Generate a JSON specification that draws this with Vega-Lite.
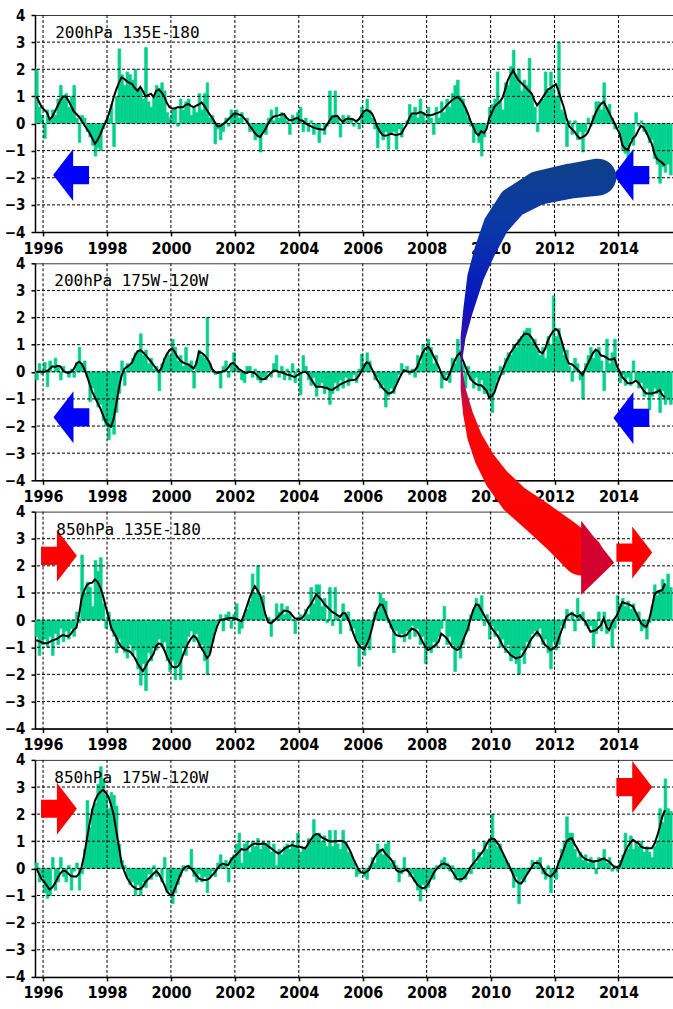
{
  "$schema": "https://vega.github.io/schema/vega-lite/v6.json",
  "padding": {"left": 3, "top": 7, "right": 0, "bottom": 0},
  "background": "white",
  "spacing": 31.3,
  "bounds": "flush",
  "config": {
    "view": {"stroke": "#3a3a3a", "strokeWidth": 1},
    "axis": {"labelFont": "Liberation Sans Narrow, DejaVu Sans Condensed, Liberation Sans", "labelFontWeight": "bold", "labelFontSize": 16, "labelColor": "#000", "domainColor": "#000", "domainWidth": 1.5, "tickColor": "#000", "tickWidth": 1.5, "tickSize": 4, "labelPadding": 2, "grid": false, "labelOverlap": false},
    "axisX": {"labelPadding": 4, "labelFontSize": 16},
    "axisY": {"tickCount": 9, "labelOverlap": false, "labelFontSize": 15, "labelPadding": 6}
  },
  "datasets": {
    "gy": [{"g": -3}, {"g": -2}, {"g": -1}, {"g": 0}, {"g": 1}, {"g": 2}, {"g": 3}],
    "gx": [{"g": "1996-01-01"}, {"g": "1998-01-01"}, {"g": "2000-01-01"}, {"g": "2002-01-01"}, {"g": "2004-01-01"}, {"g": "2006-01-01"}, {"g": "2008-01-01"}, {"g": "2010-01-01"}, {"g": "2012-01-01"}, {"g": "2014-01-01"}],
    "arr": [
      {"p": 1, "t": "1996-11-16", "y": -1.9, "d": "L"},
      {"p": 1, "t": "2014-05-28", "y": -1.9, "d": "L"},
      {"p": 2, "t": "1996-11-20", "y": -1.68, "d": "L"},
      {"p": 2, "t": "2014-05-28", "y": -1.7, "d": "L"},
      {"p": 3, "t": "1996-07-01", "y": 2.37, "d": "R"},
      {"p": 3, "t": "2014-07-01", "y": 2.49, "d": "R"},
      {"p": 4, "t": "1996-07-01", "y": 2.2, "d": "R"},
      {"p": 4, "t": "2014-07-01", "y": 3.0, "d": "R"}
    ],
    "arc": [
      {"k": 1, "t": "2013-05-10", "y": 16.33, "w": 0.88},
      {"k": 2, "t": "2012-07-09", "y": 16.19, "w": 0.833},
      {"k": 3, "t": "2011-06-28", "y": 15.93, "w": 0.8},
      {"k": 4, "t": "2010-09-15", "y": 15.4, "w": 0.72},
      {"k": 5, "t": "2010-03-10", "y": 14.6, "w": 0.62},
      {"k": 6, "t": "2009-10-30", "y": 13.63, "w": 0.51},
      {"k": 7, "t": "2009-07-15", "y": 12.67, "w": 0.4},
      {"k": 8, "t": "2009-04-19", "y": 11.41, "w": 0.238},
      {"k": 9, "t": "2009-02-20", "y": 10.41, "w": 0.119},
      {"k": 10, "t": "2009-01-30", "y": 9.44, "w": 0.024},
      {"k": 11, "t": "2009-02-21", "y": 8.52, "w": 0.119},
      {"k": 12, "t": "2009-04-19", "y": 7.59, "w": 0.238},
      {"k": 13, "t": "2009-07-04", "y": 6.74, "w": 0.357},
      {"k": 14, "t": "2009-10-26", "y": 5.93, "w": 0.476},
      {"k": 15, "t": "2010-03-19", "y": 5.19, "w": 0.595},
      {"k": 16, "t": "2010-10-06", "y": 4.44, "w": 0.714},
      {"k": 17, "t": "2011-06-28", "y": 3.78, "w": 0.81},
      {"k": 18, "t": "2012-03-25", "y": 3.07, "w": 0.905},
      {"k": 19, "t": "2012-11-12", "y": 2.41, "w": 1.0}
    ],
    "head": [{"t": "2013-05-08", "y": 2.3}],
    "d1": [
      {"m":"1995-10","v":2.0,"s":1.0},{"m":"1995-11","v":0.6,"s":0.8},{"m":"1995-12","v":0.3,"s":0.6},
      {"m":"1996-01","v":-0.55,"s":0.5},{"m":"1996-02","v":0.5,"s":0.4},{"m":"1996-03","v":0.2,"s":0.15},{"m":"1996-04","v":0.5,"s":0.25},{"m":"1996-05","v":0.3,"s":0.45},{"m":"1996-06","v":0.9,"s":0.65},{"m":"1996-07","v":1.4,"s":0.85},{"m":"1996-08","v":1.0,"s":1.0},{"m":"1996-09","v":1.1,"s":1.0},{"m":"1996-10","v":0.6,"s":0.85},{"m":"1996-11","v":1.0,"s":0.65},{"m":"1996-12","v":1.4,"s":0.45},
      {"m":"1997-01","v":0.2,"s":0.35},{"m":"1997-02","v":-0.7,"s":0.25},{"m":"1997-03","v":0.3,"s":0.1},{"m":"1997-04","v":0.2,"s":-0.05},{"m":"1997-05","v":-0.3,"s":-0.2},{"m":"1997-06","v":-0.5,"s":-0.35},{"m":"1997-07","v":-0.8,"s":-0.55},{"m":"1997-08","v":-1.2,"s":-0.75},{"m":"1997-09","v":-0.9,"s":-0.6},{"m":"1997-10","v":-1.0,"s":-0.4},{"m":"1997-11","v":-0.2,"s":-0.15},{"m":"1997-12","v":0.1,"s":0.05},
      {"m":"1998-01","v":0.2,"s":0.3},{"m":"1998-02","v":0.7,"s":0.6},{"m":"1998-03","v":-0.85,"s":0.95},{"m":"1998-04","v":1.0,"s":1.25},{"m":"1998-05","v":2.75,"s":1.5},{"m":"1998-06","v":1.8,"s":1.7},{"m":"1998-07","v":1.4,"s":1.65},{"m":"1998-08","v":1.9,"s":1.55},{"m":"1998-09","v":1.8,"s":1.5},{"m":"1998-10","v":1.6,"s":1.45},{"m":"1998-11","v":2.0,"s":1.3},{"m":"1998-12","v":1.3,"s":1.2},
      {"m":"1999-01","v":1.3,"s":1.35},{"m":"1999-02","v":0.9,"s":1.2},{"m":"1999-03","v":2.8,"s":1.0},{"m":"1999-04","v":0.8,"s":1.05},{"m":"1999-05","v":0.6,"s":1.1},{"m":"1999-06","v":1.0,"s":0.98},{"m":"1999-07","v":1.4,"s":1.2},{"m":"1999-08","v":1.3,"s":1.25},{"m":"1999-09","v":1.5,"s":1.15},{"m":"1999-10","v":1.2,"s":1.0},{"m":"1999-11","v":0.4,"s":0.75},{"m":"1999-12","v":0.2,"s":0.6},
      {"m":"2000-01","v":0.5,"s":0.55},{"m":"2000-02","v":0.6,"s":0.55},{"m":"2000-03","v":-0.1,"s":0.6},{"m":"2000-04","v":0.9,"s":0.6},{"m":"2000-05","v":0.5,"s":0.6},{"m":"2000-06","v":0.8,"s":0.68},{"m":"2000-07","v":0.9,"s":0.72},{"m":"2000-08","v":0.3,"s":0.65},{"m":"2000-09","v":0.6,"s":0.6},{"m":"2000-10","v":0.4,"s":0.66},{"m":"2000-11","v":1.1,"s":0.7},{"m":"2000-12","v":0.5,"s":0.78},
      {"m":"2001-01","v":1.1,"s":0.65},{"m":"2001-02","v":1.5,"s":0.5},{"m":"2001-03","v":0.2,"s":0.35},{"m":"2001-04","v":0.3,"s":0.2},{"m":"2001-05","v":-0.75,"s":0.05},{"m":"2001-06","v":-0.2,"s":-0.1},{"m":"2001-07","v":-0.6,"s":-0.1},{"m":"2001-08","v":-0.3,"s":-0.03},{"m":"2001-09","v":0.2,"s":0.05},{"m":"2001-10","v":-0.1,"s":0.15},{"m":"2001-11","v":0.5,"s":0.25},{"m":"2001-12","v":0.4,"s":0.35},
      {"m":"2002-01","v":0.5,"s":0.37},{"m":"2002-02","v":0.2,"s":0.33},{"m":"2002-03","v":0.4,"s":0.3},{"m":"2002-04","v":0.0,"s":0.2},{"m":"2002-05","v":0.2,"s":0.08},{"m":"2002-06","v":-0.3,"s":-0.08},{"m":"2002-07","v":-0.2,"s":-0.2},{"m":"2002-08","v":-0.6,"s":-0.35},{"m":"2002-09","v":-0.5,"s":-0.45},{"m":"2002-10","v":-1.05,"s":-0.5},{"m":"2002-11","v":-0.3,"s":-0.35},{"m":"2002-12","v":-0.4,"s":-0.2},
      {"m":"2003-01","v":0.2,"s":0.0},{"m":"2003-02","v":0.5,"s":0.15},{"m":"2003-03","v":0.1,"s":0.25},{"m":"2003-04","v":0.6,"s":0.28},{"m":"2003-05","v":0.2,"s":0.3},{"m":"2003-06","v":0.4,"s":0.33},{"m":"2003-07","v":0.3,"s":0.35},{"m":"2003-08","v":0.1,"s":0.2},{"m":"2003-09","v":-0.4,"s":0.12},{"m":"2003-10","v":0.3,"s":0.12},{"m":"2003-11","v":0.2,"s":0.18},{"m":"2003-12","v":0.4,"s":0.2},
      {"m":"2004-01","v":0.6,"s":0.12},{"m":"2004-02","v":-0.3,"s":0.1},{"m":"2004-03","v":0.2,"s":0.0},{"m":"2004-04","v":-0.3,"s":-0.05},{"m":"2004-05","v":0.1,"s":-0.1},{"m":"2004-06","v":-0.4,"s":-0.15},{"m":"2004-07","v":-0.2,"s":-0.18},{"m":"2004-08","v":-0.7,"s":-0.2},{"m":"2004-09","v":0.0,"s":-0.22},{"m":"2004-10","v":-0.4,"s":-0.22},{"m":"2004-11","v":-0.1,"s":-0.05},{"m":"2004-12","v":1.2,"s":0.1},
      {"m":"2005-01","v":0.3,"s":0.25},{"m":"2005-02","v":1.2,"s":0.27},{"m":"2005-03","v":0.2,"s":0.28},{"m":"2005-04","v":-0.5,"s":0.15},{"m":"2005-05","v":0.3,"s":0.06},{"m":"2005-06","v":0.1,"s":0.15},{"m":"2005-07","v":0.3,"s":0.18},{"m":"2005-08","v":0.2,"s":0.17},{"m":"2005-09","v":-0.1,"s":0.15},{"m":"2005-10","v":0.1,"s":0.08},{"m":"2005-11","v":-0.2,"s":0.15},{"m":"2005-12","v":0.6,"s":0.3},
      {"m":"2006-01","v":0.4,"s":0.45},{"m":"2006-02","v":0.9,"s":0.5},{"m":"2006-03","v":0.5,"s":0.45},{"m":"2006-04","v":0.2,"s":0.37},{"m":"2006-05","v":-0.2,"s":0.15},{"m":"2006-06","v":-0.9,"s":-0.12},{"m":"2006-07","v":-0.3,"s":-0.3},{"m":"2006-08","v":-0.6,"s":-0.43},{"m":"2006-09","v":-0.3,"s":-0.45},{"m":"2006-10","v":-0.95,"s":-0.43},{"m":"2006-11","v":-0.4,"s":-0.38},{"m":"2006-12","v":-0.3,"s":-0.4},
      {"m":"2007-01","v":-0.95,"s":-0.43},{"m":"2007-02","v":-0.2,"s":-0.4},{"m":"2007-03","v":-0.5,"s":-0.38},{"m":"2007-04","v":0.0,"s":-0.2},{"m":"2007-05","v":0.1,"s":-0.05},{"m":"2007-06","v":0.7,"s":0.2},{"m":"2007-07","v":0.3,"s":0.37},{"m":"2007-08","v":0.6,"s":0.37},{"m":"2007-09","v":0.2,"s":0.37},{"m":"2007-10","v":0.9,"s":0.42},{"m":"2007-11","v":0.4,"s":0.4},{"m":"2007-12","v":0.1,"s":0.33},
      {"m":"2008-01","v":0.6,"s":0.3},{"m":"2008-02","v":0.2,"s":0.3},{"m":"2008-03","v":-0.4,"s":0.33},{"m":"2008-04","v":0.6,"s":0.37},{"m":"2008-05","v":0.2,"s":0.4},{"m":"2008-06","v":0.8,"s":0.45},{"m":"2008-07","v":0.4,"s":0.55},{"m":"2008-08","v":0.9,"s":0.67},{"m":"2008-09","v":0.6,"s":0.77},{"m":"2008-10","v":1.1,"s":0.86},{"m":"2008-11","v":1.4,"s":0.93},{"m":"2008-12","v":1.6,"s":0.98},
      {"m":"2009-01","v":1.0,"s":0.9},{"m":"2009-02","v":0.9,"s":0.78},{"m":"2009-03","v":0.5,"s":0.6},{"m":"2009-04","v":0.2,"s":0.37},{"m":"2009-05","v":-0.1,"s":0.1},{"m":"2009-06","v":-0.7,"s":-0.12},{"m":"2009-07","v":-0.3,"s":-0.35},{"m":"2009-08","v":-0.7,"s":-0.43},{"m":"2009-09","v":-1.2,"s":-0.28},{"m":"2009-10","v":-0.5,"s":-0.35},{"m":"2009-11","v":0.0,"s":-0.2},{"m":"2009-12","v":0.6,"s":0.2},
      {"m":"2010-01","v":0.7,"s":0.4},{"m":"2010-02","v":0.9,"s":0.62},{"m":"2010-03","v":1.9,"s":0.72},{"m":"2010-04","v":0.8,"s":0.8},{"m":"2010-05","v":0.5,"s":0.95},{"m":"2010-06","v":1.5,"s":1.25},{"m":"2010-07","v":1.4,"s":1.6},{"m":"2010-08","v":2.1,"s":1.8},{"m":"2010-09","v":2.7,"s":1.95},{"m":"2010-10","v":1.8,"s":1.75},{"m":"2010-11","v":2.0,"s":1.6},{"m":"2010-12","v":1.2,"s":1.5},
      {"m":"2011-01","v":1.6,"s":1.4},{"m":"2011-02","v":1.4,"s":1.3},{"m":"2011-03","v":2.4,"s":1.2},{"m":"2011-04","v":1.0,"s":1.1},{"m":"2011-05","v":0.6,"s":0.85},{"m":"2011-06","v":-0.3,"s":0.67},{"m":"2011-07","v":0.8,"s":0.8},{"m":"2011-08","v":0.9,"s":0.95},{"m":"2011-09","v":1.9,"s":1.1},{"m":"2011-10","v":1.2,"s":1.25},{"m":"2011-11","v":1.9,"s":1.3},{"m":"2011-12","v":1.3,"s":1.38},
      {"m":"2012-01","v":1.0,"s":1.45},{"m":"2012-02","v":3.0,"s":1.2},{"m":"2012-03","v":0.5,"s":0.9},{"m":"2012-04","v":0.4,"s":0.6},{"m":"2012-05","v":-0.85,"s":0.2},{"m":"2012-06","v":0.1,"s":-0.1},{"m":"2012-07","v":-0.4,"s":-0.2},{"m":"2012-08","v":0.1,"s":-0.3},{"m":"2012-09","v":-0.6,"s":-0.45},{"m":"2012-10","v":-0.3,"s":-0.55},{"m":"2012-11","v":-1.05,"s":-0.5},{"m":"2012-12","v":-0.3,"s":-0.45},
      {"m":"2013-01","v":0.2,"s":-0.33},{"m":"2013-02","v":-0.1,"s":-0.1},{"m":"2013-03","v":0.3,"s":0.15},{"m":"2013-04","v":0.8,"s":0.4},{"m":"2013-05","v":0.8,"s":0.6},{"m":"2013-06","v":0.5,"s":0.72},{"m":"2013-07","v":1.5,"s":0.8},{"m":"2013-08","v":0.5,"s":0.6},{"m":"2013-09","v":0.7,"s":0.4},{"m":"2013-10","v":0.2,"s":0.2},{"m":"2013-11","v":-0.2,"s":0.02},{"m":"2013-12","v":0.0,"s":-0.2},
      {"m":"2014-01","v":-0.5,"s":-0.4},{"m":"2014-02","v":-1.0,"s":-0.8},{"m":"2014-03","v":-1.1,"s":-0.92},{"m":"2014-04","v":-1.3,"s":-0.98},{"m":"2014-05","v":-0.6,"s":-0.75},{"m":"2014-06","v":-0.8,"s":-0.55},{"m":"2014-07","v":0.4,"s":-0.45},{"m":"2014-08","v":-0.1,"s":-0.25},{"m":"2014-09","v":0.1,"s":-0.08},{"m":"2014-10","v":-0.3,"s":-0.15},{"m":"2014-11","v":-0.4,"s":-0.33},{"m":"2014-12","v":-0.7,"s":-0.55},
      {"m":"2015-01","v":-0.6,"s":-0.74},{"m":"2015-02","v":-1.3,"s":-1.1},{"m":"2015-03","v":-1.5,"s":-1.3},{"m":"2015-04","v":-2.2,"s":-1.38},{"m":"2015-05","v":-1.6,"s":-1.45},{"m":"2015-06","v":-1.8,"s":-1.55},{"m":"2015-07","v":-1.5,"s":null},{"m":"2015-08","v":-1.9,"s":null}
    ],
    "d2": [
      {"m":"1995-10","v":-0.3,"s":0.0},{"m":"1995-11","v":0.3,"s":0.0},{"m":"1995-12","v":-0.1,"s":0.0},
      {"m":"1996-01","v":0.35,"s":0.0},{"m":"1996-02","v":-0.55,"s":0.03},{"m":"1996-03","v":0.4,"s":0.1},{"m":"1996-04","v":0.0,"s":0.2},{"m":"1996-05","v":0.5,"s":0.18},{"m":"1996-06","v":0.2,"s":0.22},{"m":"1996-07","v":-0.3,"s":0.2},{"m":"1996-08","v":0.2,"s":0.05},{"m":"1996-09","v":0.0,"s":-0.02},{"m":"1996-10","v":-0.2,"s":-0.04},{"m":"1996-11","v":0.1,"s":0.0},{"m":"1996-12","v":-0.2,"s":0.1},
      {"m":"1997-01","v":0.35,"s":0.3},{"m":"1997-02","v":0.9,"s":0.37},{"m":"1997-03","v":0.3,"s":0.3},{"m":"1997-04","v":0.4,"s":0.12},{"m":"1997-05","v":-0.2,"s":-0.15},{"m":"1997-06","v":-1.1,"s":-0.45},{"m":"1997-07","v":-0.6,"s":-0.75},{"m":"1997-08","v":-1.0,"s":-0.95},{"m":"1997-09","v":-1.3,"s":-1.15},{"m":"1997-10","v":-1.2,"s":-1.35},{"m":"1997-11","v":-1.8,"s":-1.6},{"m":"1997-12","v":-2.0,"s":-1.85},
      {"m":"1998-01","v":-2.5,"s":-1.95},{"m":"1998-02","v":-2.0,"s":-2.02},{"m":"1998-03","v":-2.3,"s":-1.75},{"m":"1998-04","v":-1.5,"s":-1.2},{"m":"1998-05","v":-0.8,"s":-0.6},{"m":"1998-06","v":0.4,"s":-0.15},{"m":"1998-07","v":-0.5,"s":0.1},{"m":"1998-08","v":0.3,"s":0.18},{"m":"1998-09","v":0.2,"s":0.25},{"m":"1998-10","v":0.5,"s":0.35},{"m":"1998-11","v":0.7,"s":0.6},{"m":"1998-12","v":0.8,"s":0.75},
      {"m":"1999-01","v":1.4,"s":0.8},{"m":"1999-02","v":0.6,"s":0.72},{"m":"1999-03","v":0.8,"s":0.62},{"m":"1999-04","v":0.3,"s":0.5},{"m":"1999-05","v":0.5,"s":0.38},{"m":"1999-06","v":0.1,"s":0.25},{"m":"1999-07","v":0.2,"s":0.12},{"m":"1999-08","v":-0.7,"s":0.0},{"m":"1999-09","v":0.3,"s":0.15},{"m":"1999-10","v":0.5,"s":0.45},{"m":"1999-11","v":0.7,"s":0.65},{"m":"1999-12","v":0.6,"s":0.8},
      {"m":"2000-01","v":1.2,"s":0.86},{"m":"2000-02","v":0.9,"s":0.72},{"m":"2000-03","v":0.4,"s":0.55},{"m":"2000-04","v":0.6,"s":0.42},{"m":"2000-05","v":0.2,"s":0.35},{"m":"2000-06","v":0.9,"s":0.3},{"m":"2000-07","v":0.3,"s":0.27},{"m":"2000-08","v":0.4,"s":0.2},{"m":"2000-09","v":-0.6,"s":0.12},{"m":"2000-10","v":0.4,"s":0.3},{"m":"2000-11","v":0.8,"s":0.74},{"m":"2000-12","v":0.6,"s":0.7},
      {"m":"2001-01","v":0.5,"s":0.62},{"m":"2001-02","v":2.0,"s":0.5},{"m":"2001-03","v":0.3,"s":0.35},{"m":"2001-04","v":0.0,"s":0.1},{"m":"2001-05","v":-0.1,"s":0.0},{"m":"2001-06","v":0.0,"s":-0.04},{"m":"2001-07","v":-0.6,"s":-0.02},{"m":"2001-08","v":0.2,"s":0.02},{"m":"2001-09","v":0.4,"s":0.05},{"m":"2001-10","v":-0.2,"s":0.15},{"m":"2001-11","v":0.3,"s":0.3},{"m":"2001-12","v":0.7,"s":0.32},
      {"m":"2002-01","v":0.2,"s":0.22},{"m":"2002-02","v":0.1,"s":0.1},{"m":"2002-03","v":-0.3,"s":0.04},{"m":"2002-04","v":-0.4,"s":-0.02},{"m":"2002-05","v":0.2,"s":-0.04},{"m":"2002-06","v":0.2,"s":0.0},{"m":"2002-07","v":-0.2,"s":-0.02},{"m":"2002-08","v":0.1,"s":-0.05},{"m":"2002-09","v":-0.3,"s":-0.15},{"m":"2002-10","v":-0.4,"s":-0.25},{"m":"2002-11","v":-0.2,"s":-0.28},{"m":"2002-12","v":-0.3,"s":-0.25},
      {"m":"2003-01","v":0.0,"s":-0.15},{"m":"2003-02","v":-0.2,"s":-0.05},{"m":"2003-03","v":0.3,"s":0.04},{"m":"2003-04","v":0.6,"s":0.04},{"m":"2003-05","v":-0.2,"s":0.0},{"m":"2003-06","v":0.2,"s":-0.02},{"m":"2003-07","v":-0.3,"s":-0.06},{"m":"2003-08","v":0.1,"s":-0.1},{"m":"2003-09","v":-0.3,"s":-0.12},{"m":"2003-10","v":0.3,"s":-0.16},{"m":"2003-11","v":-0.4,"s":-0.2},{"m":"2003-12","v":0.1,"s":-0.12},
      {"m":"2004-01","v":-0.85,"s":-0.06},{"m":"2004-02","v":0.6,"s":-0.02},{"m":"2004-03","v":0.2,"s":0.0},{"m":"2004-04","v":-0.3,"s":-0.08},{"m":"2004-05","v":-0.5,"s":-0.25},{"m":"2004-06","v":-0.2,"s":-0.4},{"m":"2004-07","v":-0.9,"s":-0.55},{"m":"2004-08","v":-0.5,"s":-0.55},{"m":"2004-09","v":-0.4,"s":-0.55},{"m":"2004-10","v":-0.8,"s":-0.58},{"m":"2004-11","v":-0.6,"s":-0.6},{"m":"2004-12","v":-1.2,"s":-0.65},
      {"m":"2005-01","v":-0.8,"s":-0.67},{"m":"2005-02","v":-0.4,"s":-0.6},{"m":"2005-03","v":-0.7,"s":-0.55},{"m":"2005-04","v":-0.3,"s":-0.47},{"m":"2005-05","v":-0.6,"s":-0.42},{"m":"2005-06","v":-0.2,"s":-0.38},{"m":"2005-07","v":-0.5,"s":-0.33},{"m":"2005-08","v":-0.3,"s":-0.31},{"m":"2005-09","v":-0.1,"s":-0.3},{"m":"2005-10","v":-0.4,"s":-0.28},{"m":"2005-11","v":0.1,"s":-0.15},{"m":"2005-12","v":0.65,"s":0.02},
      {"m":"2006-01","v":0.3,"s":0.2},{"m":"2006-02","v":0.7,"s":0.35},{"m":"2006-03","v":0.4,"s":0.3},{"m":"2006-04","v":0.0,"s":0.1},{"m":"2006-05","v":-0.3,"s":-0.1},{"m":"2006-06","v":-0.2,"s":-0.3},{"m":"2006-07","v":-0.6,"s":-0.45},{"m":"2006-08","v":-0.5,"s":-0.6},{"m":"2006-09","v":-1.3,"s":-0.7},{"m":"2006-10","v":-0.9,"s":-0.8},{"m":"2006-11","v":-0.6,"s":-0.78},{"m":"2006-12","v":-0.8,"s":-0.72},
      {"m":"2007-01","v":-0.4,"s":-0.5},{"m":"2007-02","v":-0.1,"s":-0.3},{"m":"2007-03","v":0.3,"s":-0.1},{"m":"2007-04","v":0.0,"s":0.06},{"m":"2007-05","v":0.2,"s":0.02},{"m":"2007-06","v":-0.1,"s":0.0},{"m":"2007-07","v":0.1,"s":0.0},{"m":"2007-08","v":-0.2,"s":0.05},{"m":"2007-09","v":0.6,"s":0.18},{"m":"2007-10","v":0.3,"s":0.45},{"m":"2007-11","v":1.0,"s":0.7},{"m":"2007-12","v":0.7,"s":0.85},
      {"m":"2008-01","v":1.2,"s":0.92},{"m":"2008-02","v":0.9,"s":0.8},{"m":"2008-03","v":0.3,"s":0.6},{"m":"2008-04","v":0.6,"s":0.4},{"m":"2008-05","v":0.0,"s":0.2},{"m":"2008-06","v":-0.6,"s":-0.05},{"m":"2008-07","v":-0.3,"s":-0.25},{"m":"2008-08","v":-0.1,"s":-0.3},{"m":"2008-09","v":-0.4,"s":-0.1},{"m":"2008-10","v":0.5,"s":0.15},{"m":"2008-11","v":0.3,"s":0.4},{"m":"2008-12","v":1.2,"s":0.6},
      {"m":"2009-01","v":0.8,"s":0.7},{"m":"2009-02","v":0.3,"s":0.45},{"m":"2009-03","v":-0.6,"s":0.22},{"m":"2009-04","v":0.2,"s":-0.05},{"m":"2009-05","v":-0.3,"s":-0.25},{"m":"2009-06","v":-0.6,"s":-0.37},{"m":"2009-07","v":-0.2,"s":-0.45},{"m":"2009-08","v":-0.7,"s":-0.5},{"m":"2009-09","v":-0.3,"s":-0.5},{"m":"2009-10","v":-0.8,"s":-0.6},{"m":"2009-11","v":-0.8,"s":-0.7},{"m":"2009-12","v":-1.0,"s":-0.95},
      {"m":"2010-01","v":-1.5,"s":-0.9},{"m":"2010-02","v":-0.6,"s":-0.75},{"m":"2010-03","v":-0.3,"s":-0.45},{"m":"2010-04","v":0.2,"s":-0.2},{"m":"2010-05","v":-0.1,"s":0.05},{"m":"2010-06","v":0.5,"s":0.3},{"m":"2010-07","v":0.7,"s":0.5},{"m":"2010-08","v":0.6,"s":0.7},{"m":"2010-09","v":1.0,"s":0.85},{"m":"2010-10","v":0.9,"s":1.0},{"m":"2010-11","v":1.2,"s":1.1},{"m":"2010-12","v":1.3,"s":1.25},
      {"m":"2011-01","v":1.5,"s":1.38},{"m":"2011-02","v":1.6,"s":1.41},{"m":"2011-03","v":1.6,"s":1.37},{"m":"2011-04","v":1.1,"s":1.25},{"m":"2011-05","v":1.2,"s":1.08},{"m":"2011-06","v":0.8,"s":0.9},{"m":"2011-07","v":0.6,"s":0.74},{"m":"2011-08","v":0.9,"s":0.68},{"m":"2011-09","v":0.5,"s":0.85},{"m":"2011-10","v":1.3,"s":1.15},{"m":"2011-11","v":1.0,"s":1.35},{"m":"2011-12","v":2.8,"s":1.5},
      {"m":"2012-01","v":1.3,"s":1.58},{"m":"2012-02","v":1.6,"s":1.5},{"m":"2012-03","v":1.1,"s":1.2},{"m":"2012-04","v":0.6,"s":0.85},{"m":"2012-05","v":0.8,"s":0.5},{"m":"2012-06","v":0.2,"s":0.3},{"m":"2012-07","v":-0.35,"s":0.28},{"m":"2012-08","v":0.5,"s":0.2},{"m":"2012-09","v":0.3,"s":0.1},{"m":"2012-10","v":-0.3,"s":0.0},{"m":"2012-11","v":-1.0,"s":-0.12},{"m":"2012-12","v":0.3,"s":0.1},
      {"m":"2013-01","v":0.6,"s":0.3},{"m":"2013-02","v":0.9,"s":0.5},{"m":"2013-03","v":0.5,"s":0.7},{"m":"2013-04","v":0.8,"s":0.82},{"m":"2013-05","v":0.9,"s":0.75},{"m":"2013-06","v":0.4,"s":0.6},{"m":"2013-07","v":-0.7,"s":0.58},{"m":"2013-08","v":1.2,"s":0.52},{"m":"2013-09","v":0.3,"s":0.45},{"m":"2013-10","v":0.7,"s":0.45},{"m":"2013-11","v":1.2,"s":0.5},{"m":"2013-12","v":0.1,"s":0.2},
      {"m":"2014-01","v":-0.4,"s":0.0},{"m":"2014-02","v":-0.1,"s":-0.2},{"m":"2014-03","v":-0.5,"s":-0.3},{"m":"2014-04","v":-0.2,"s":-0.42},{"m":"2014-05","v":-0.5,"s":-0.42},{"m":"2014-06","v":0.4,"s":-0.4},{"m":"2014-07","v":-0.3,"s":-0.33},{"m":"2014-08","v":-0.6,"s":-0.4},{"m":"2014-09","v":-0.4,"s":-0.55},{"m":"2014-10","v":-0.9,"s":-0.7},{"m":"2014-11","v":-0.6,"s":-0.8},{"m":"2014-12","v":-1.4,"s":-0.8},
      {"m":"2015-01","v":-0.9,"s":-0.8},{"m":"2015-02","v":-0.6,"s":-0.77},{"m":"2015-03","v":-0.8,"s":-0.74},{"m":"2015-04","v":-1.5,"s":-0.68},{"m":"2015-05","v":-0.7,"s":-0.85},{"m":"2015-06","v":-1.2,"s":-0.95},{"m":"2015-07","v":-1.0,"s":null},{"m":"2015-08","v":-1.2,"s":null}
    ],
    "d3": [
      {"m":"1995-10","v":-0.6,"s":-0.74},{"m":"1995-11","v":-1.3,"s":-0.78},{"m":"1995-12","v":-0.9,"s":-0.82},
      {"m":"1996-01","v":-0.7,"s":-0.85},{"m":"1996-02","v":-1.0,"s":-0.85},{"m":"1996-03","v":-0.6,"s":-0.8},{"m":"1996-04","v":-1.3,"s":-0.75},{"m":"1996-05","v":-0.5,"s":-0.72},{"m":"1996-06","v":-0.9,"s":-0.67},{"m":"1996-07","v":-0.3,"s":-0.6},{"m":"1996-08","v":-0.8,"s":-0.55},{"m":"1996-09","v":-0.4,"s":-0.58},{"m":"1996-10","v":-0.7,"s":-0.6},{"m":"1996-11","v":-0.3,"s":-0.5},{"m":"1996-12","v":-0.6,"s":-0.35},
      {"m":"1997-01","v":0.3,"s":-0.28},{"m":"1997-02","v":-0.1,"s":0.2},{"m":"1997-03","v":2.4,"s":0.8},{"m":"1997-04","v":1.0,"s":1.1},{"m":"1997-05","v":1.4,"s":1.3},{"m":"1997-06","v":1.2,"s":1.36},{"m":"1997-07","v":0.5,"s":1.38},{"m":"1997-08","v":2.2,"s":1.5},{"m":"1997-09","v":1.8,"s":1.4},{"m":"1997-10","v":2.3,"s":1.2},{"m":"1997-11","v":0.6,"s":0.9},{"m":"1997-12","v":-0.3,"s":0.5},
      {"m":"1998-01","v":0.3,"s":0.15},{"m":"1998-02","v":-0.4,"s":-0.25},{"m":"1998-03","v":-0.6,"s":-0.45},{"m":"1998-04","v":-1.2,"s":-0.62},{"m":"1998-05","v":-0.7,"s":-0.85},{"m":"1998-06","v":-1.0,"s":-1.0},{"m":"1998-07","v":-1.2,"s":-1.08},{"m":"1998-08","v":-1.4,"s":-1.12},{"m":"1998-09","v":-0.9,"s":-1.15},{"m":"1998-10","v":-1.3,"s":-1.25},{"m":"1998-11","v":-1.1,"s":-1.41},{"m":"1998-12","v":-1.8,"s":-1.6},
      {"m":"1999-01","v":-2.4,"s":-1.75},{"m":"1999-02","v":-1.6,"s":-1.88},{"m":"1999-03","v":-2.6,"s":-1.72},{"m":"1999-04","v":-1.2,"s":-1.53},{"m":"1999-05","v":-1.5,"s":-1.4},{"m":"1999-06","v":-1.0,"s":-1.25},{"m":"1999-07","v":-1.1,"s":-0.95},{"m":"1999-08","v":-0.7,"s":-0.86},{"m":"1999-09","v":-1.0,"s":-0.9},{"m":"1999-10","v":-0.8,"s":-1.1},{"m":"1999-11","v":-1.5,"s":-1.35},{"m":"1999-12","v":-1.9,"s":-1.55},
      {"m":"2000-01","v":-1.5,"s":-1.72},{"m":"2000-02","v":-2.2,"s":-1.75},{"m":"2000-03","v":-1.6,"s":-1.72},{"m":"2000-04","v":-2.2,"s":-1.58},{"m":"2000-05","v":-1.0,"s":-1.3},{"m":"2000-06","v":-1.3,"s":-1.05},{"m":"2000-07","v":-0.6,"s":-0.85},{"m":"2000-08","v":-0.4,"s":-0.68},{"m":"2000-09","v":-0.8,"s":-0.58},{"m":"2000-10","v":-0.5,"s":-0.65},{"m":"2000-11","v":-1.0,"s":-0.85},{"m":"2000-12","v":-0.9,"s":-1.05},
      {"m":"2001-01","v":-1.5,"s":-1.2},{"m":"2001-02","v":-2.0,"s":-1.4},{"m":"2001-03","v":-1.2,"s":-1.3},{"m":"2001-04","v":-0.8,"s":-0.9},{"m":"2001-05","v":-0.4,"s":-0.5},{"m":"2001-06","v":-0.1,"s":-0.2},{"m":"2001-07","v":0.2,"s":0.0},{"m":"2001-08","v":-0.4,"s":0.02},{"m":"2001-09","v":0.2,"s":0.04},{"m":"2001-10","v":0.3,"s":0.07},{"m":"2001-11","v":-0.3,"s":0.09},{"m":"2001-12","v":0.2,"s":0.07},
      {"m":"2002-01","v":0.6,"s":0.04},{"m":"2002-02","v":-0.5,"s":0.0},{"m":"2002-03","v":-0.3,"s":-0.04},{"m":"2002-04","v":0.2,"s":0.2},{"m":"2002-05","v":0.4,"s":0.5},{"m":"2002-06","v":0.7,"s":0.8},{"m":"2002-07","v":1.7,"s":1.05},{"m":"2002-08","v":1.0,"s":1.25},{"m":"2002-09","v":2.0,"s":1.1},{"m":"2002-10","v":0.8,"s":0.92},{"m":"2002-11","v":0.9,"s":0.6},{"m":"2002-12","v":0.0,"s":0.2},
      {"m":"2003-01","v":0.1,"s":-0.08},{"m":"2003-02","v":-0.6,"s":-0.12},{"m":"2003-03","v":0.0,"s":-0.05},{"m":"2003-04","v":0.6,"s":0.05},{"m":"2003-05","v":0.3,"s":0.15},{"m":"2003-06","v":0.6,"s":0.25},{"m":"2003-07","v":0.2,"s":0.35},{"m":"2003-08","v":0.5,"s":0.34},{"m":"2003-09","v":0.3,"s":0.3},{"m":"2003-10","v":0.0,"s":0.18},{"m":"2003-11","v":-0.5,"s":0.07},{"m":"2003-12","v":0.1,"s":0.04},
      {"m":"2004-01","v":0.2,"s":0.04},{"m":"2004-02","v":0.0,"s":0.1},{"m":"2004-03","v":0.4,"s":0.25},{"m":"2004-04","v":0.2,"s":0.45},{"m":"2004-05","v":1.2,"s":0.58},{"m":"2004-06","v":0.6,"s":0.75},{"m":"2004-07","v":1.3,"s":0.95},{"m":"2004-08","v":1.3,"s":0.85},{"m":"2004-09","v":0.5,"s":0.75},{"m":"2004-10","v":0.8,"s":0.6},{"m":"2004-11","v":-0.1,"s":0.5},{"m":"2004-12","v":1.2,"s":0.4},
      {"m":"2005-01","v":-0.2,"s":0.3},{"m":"2005-02","v":1.2,"s":0.25},{"m":"2005-03","v":0.1,"s":0.18},{"m":"2005-04","v":-0.5,"s":0.12},{"m":"2005-05","v":0.6,"s":0.25},{"m":"2005-06","v":0.2,"s":0.25},{"m":"2005-07","v":0.3,"s":0.05},{"m":"2005-08","v":-0.4,"s":-0.2},{"m":"2005-09","v":-0.3,"s":-0.5},{"m":"2005-10","v":-0.7,"s":-0.75},{"m":"2005-11","v":-1.7,"s":-0.92},{"m":"2005-12","v":-0.9,"s":-1.02},
      {"m":"2006-01","v":-1.3,"s":-1.07},{"m":"2006-02","v":-0.8,"s":-0.9},{"m":"2006-03","v":-1.1,"s":-0.67},{"m":"2006-04","v":-0.2,"s":-0.31},{"m":"2006-05","v":0.3,"s":0.1},{"m":"2006-06","v":0.3,"s":0.4},{"m":"2006-07","v":1.0,"s":0.58},{"m":"2006-08","v":0.8,"s":0.55},{"m":"2006-09","v":0.7,"s":0.3},{"m":"2006-10","v":-0.1,"s":0.05},{"m":"2006-11","v":-0.3,"s":-0.18},{"m":"2006-12","v":-1.2,"s":-0.4},
      {"m":"2007-01","v":-0.4,"s":-0.55},{"m":"2007-02","v":-0.6,"s":-0.58},{"m":"2007-03","v":-0.5,"s":-0.6},{"m":"2007-04","v":-0.8,"s":-0.58},{"m":"2007-05","v":-0.4,"s":-0.55},{"m":"2007-06","v":-0.7,"s":-0.42},{"m":"2007-07","v":-0.2,"s":-0.31},{"m":"2007-08","v":-0.6,"s":-0.36},{"m":"2007-09","v":-0.3,"s":-0.43},{"m":"2007-10","v":-0.9,"s":-0.6},{"m":"2007-11","v":-0.6,"s":-0.8},{"m":"2007-12","v":-1.6,"s":-0.98},
      {"m":"2008-01","v":-1.0,"s":-1.1},{"m":"2008-02","v":-1.2,"s":-1.05},{"m":"2008-03","v":-0.8,"s":-0.98},{"m":"2008-04","v":-1.0,"s":-0.9},{"m":"2008-05","v":-0.6,"s":-0.8},{"m":"2008-06","v":-0.3,"s":-0.5},{"m":"2008-07","v":0.5,"s":-0.58},{"m":"2008-08","v":-0.9,"s":-0.67},{"m":"2008-09","v":-0.6,"s":-0.82},{"m":"2008-10","v":-0.9,"s":-0.98},{"m":"2008-11","v":-1.9,"s":-1.05},{"m":"2008-12","v":-1.0,"s":-1.1},
      {"m":"2009-01","v":-1.4,"s":-1.05},{"m":"2009-02","v":-0.9,"s":-0.8},{"m":"2009-03","v":-0.5,"s":-0.55},{"m":"2009-04","v":-0.4,"s":-0.31},{"m":"2009-05","v":0.2,"s":0.05},{"m":"2009-06","v":0.4,"s":0.37},{"m":"2009-07","v":0.8,"s":0.58},{"m":"2009-08","v":0.6,"s":0.55},{"m":"2009-09","v":0.9,"s":0.37},{"m":"2009-10","v":-0.2,"s":0.2},{"m":"2009-11","v":0.2,"s":0.0},{"m":"2009-12","v":-0.7,"s":-0.15},
      {"m":"2010-01","v":-0.2,"s":-0.31},{"m":"2010-02","v":-0.6,"s":-0.43},{"m":"2010-03","v":-0.4,"s":-0.55},{"m":"2010-04","v":-1.0,"s":-0.72},{"m":"2010-05","v":-0.7,"s":-0.92},{"m":"2010-06","v":-1.2,"s":-1.05},{"m":"2010-07","v":-0.9,"s":-1.16},{"m":"2010-08","v":-1.5,"s":-1.29},{"m":"2010-09","v":-1.3,"s":-1.35},{"m":"2010-10","v":-1.6,"s":-1.41},{"m":"2010-11","v":-2.0,"s":-1.38},{"m":"2010-12","v":-1.1,"s":-1.35},
      {"m":"2011-01","v":-1.6,"s":-1.2},{"m":"2011-02","v":-0.8,"s":-1.04},{"m":"2011-03","v":-1.0,"s":-0.85},{"m":"2011-04","v":-0.5,"s":-0.67},{"m":"2011-05","v":-0.4,"s":-0.55},{"m":"2011-06","v":-0.6,"s":-0.43},{"m":"2011-07","v":-0.3,"s":-0.55},{"m":"2011-08","v":-0.9,"s":-0.75},{"m":"2011-09","v":-0.7,"s":-0.92},{"m":"2011-10","v":-1.2,"s":-1.0},{"m":"2011-11","v":-1.8,"s":-1.1},{"m":"2011-12","v":-0.8,"s":-1.05},
      {"m":"2012-01","v":-1.1,"s":-0.98},{"m":"2012-02","v":-0.9,"s":-0.7},{"m":"2012-03","v":-0.2,"s":-0.43},{"m":"2012-04","v":-0.3,"s":-0.15},{"m":"2012-05","v":0.4,"s":0.12},{"m":"2012-06","v":0.0,"s":0.2},{"m":"2012-07","v":0.3,"s":0.25},{"m":"2012-08","v":-0.4,"s":0.18},{"m":"2012-09","v":0.8,"s":0.12},{"m":"2012-10","v":0.2,"s":0.18},{"m":"2012-11","v":0.3,"s":0.05},{"m":"2012-12","v":-0.2,"s":-0.05},
      {"m":"2013-01","v":-0.3,"s":-0.25},{"m":"2013-02","v":-0.2,"s":-0.43},{"m":"2013-03","v":-1.0,"s":-0.4},{"m":"2013-04","v":-0.5,"s":-0.37},{"m":"2013-05","v":0.3,"s":-0.28},{"m":"2013-06","v":-0.4,"s":-0.18},{"m":"2013-07","v":0.3,"s":0.06},{"m":"2013-08","v":-0.5,"s":-0.25},{"m":"2013-09","v":-0.2,"s":-0.37},{"m":"2013-10","v":-1.0,"s":-0.12},{"m":"2013-11","v":-0.3,"s":0.05},{"m":"2013-12","v":0.9,"s":0.18},
      {"m":"2014-01","v":0.6,"s":0.45},{"m":"2014-02","v":0.8,"s":0.67},{"m":"2014-03","v":0.5,"s":0.62},{"m":"2014-04","v":0.7,"s":0.6},{"m":"2014-05","v":0.4,"s":0.55},{"m":"2014-06","v":0.6,"s":0.5},{"m":"2014-07","v":0.2,"s":0.3},{"m":"2014-08","v":0.3,"s":0.1},{"m":"2014-09","v":-0.4,"s":-0.12},{"m":"2014-10","v":-0.3,"s":-0.2},{"m":"2014-11","v":-0.7,"s":-0.25},{"m":"2014-12","v":-0.1,"s":0.0},
      {"m":"2015-01","v":0.5,"s":0.43},{"m":"2015-02","v":1.3,"s":0.92},{"m":"2015-03","v":0.9,"s":1.04},{"m":"2015-04","v":1.1,"s":1.08},{"m":"2015-05","v":1.5,"s":1.1},{"m":"2015-06","v":1.3,"s":1.35},{"m":"2015-07","v":1.7,"s":null},{"m":"2015-08","v":1.2,"s":null}
    ],
    "d4": [
      {"m":"1995-10","v":0.2,"s":0.0},{"m":"1995-11","v":-0.5,"s":-0.2},{"m":"1995-12","v":-0.3,"s":-0.4},
      {"m":"1996-01","v":-0.9,"s":-0.5},{"m":"1996-02","v":-1.1,"s":-0.65},{"m":"1996-03","v":-1.0,"s":-0.78},{"m":"1996-04","v":0.4,"s":-0.7},{"m":"1996-05","v":-0.8,"s":-0.55},{"m":"1996-06","v":-0.5,"s":-0.35},{"m":"1996-07","v":0.4,"s":-0.18},{"m":"1996-08","v":-0.3,"s":-0.08},{"m":"1996-09","v":-0.5,"s":-0.1},{"m":"1996-10","v":0.1,"s":-0.2},{"m":"1996-11","v":-0.8,"s":-0.28},{"m":"1996-12","v":-0.1,"s":-0.3},
      {"m":"1997-01","v":0.2,"s":-0.3},{"m":"1997-02","v":-0.8,"s":-0.2},{"m":"1997-03","v":-0.2,"s":0.05},{"m":"1997-04","v":0.7,"s":0.5},{"m":"1997-05","v":2.5,"s":1.1},{"m":"1997-06","v":1.5,"s":1.65},{"m":"1997-07","v":2.2,"s":2.15},{"m":"1997-08","v":2.4,"s":2.5},{"m":"1997-09","v":3.1,"s":2.7},{"m":"1997-10","v":3.75,"s":2.82},{"m":"1997-11","v":3.3,"s":2.9},{"m":"1997-12","v":2.7,"s":2.8},
      {"m":"1998-01","v":2.2,"s":2.65},{"m":"1998-02","v":2.8,"s":2.35},{"m":"1998-03","v":2.7,"s":2.0},{"m":"1998-04","v":2.3,"s":1.4},{"m":"1998-05","v":0.9,"s":0.8},{"m":"1998-06","v":0.3,"s":0.2},{"m":"1998-07","v":0.1,"s":-0.1},{"m":"1998-08","v":-0.3,"s":-0.35},{"m":"1998-09","v":-0.6,"s":-0.5},{"m":"1998-10","v":-0.5,"s":-0.65},{"m":"1998-11","v":-1.0,"s":-0.72},{"m":"1998-12","v":-0.6,"s":-0.77},
      {"m":"1999-01","v":-1.0,"s":-0.75},{"m":"1999-02","v":-0.5,"s":-0.67},{"m":"1999-03","v":-0.7,"s":-0.5},{"m":"1999-04","v":-0.2,"s":-0.4},{"m":"1999-05","v":-0.4,"s":-0.3},{"m":"1999-06","v":0.1,"s":-0.2},{"m":"1999-07","v":-0.3,"s":-0.1},{"m":"1999-08","v":0.0,"s":-0.2},{"m":"1999-09","v":-0.5,"s":-0.4},{"m":"1999-10","v":0.4,"s":-0.6},{"m":"1999-11","v":-0.9,"s":-0.85},{"m":"1999-12","v":-0.8,"s":-0.95},
      {"m":"2000-01","v":-1.3,"s":-0.98},{"m":"2000-02","v":-0.9,"s":-0.75},{"m":"2000-03","v":-0.6,"s":-0.5},{"m":"2000-04","v":-0.3,"s":-0.25},{"m":"2000-05","v":0.1,"s":-0.05},{"m":"2000-06","v":-0.1,"s":0.06},{"m":"2000-07","v":0.1,"s":0.09},{"m":"2000-08","v":0.7,"s":0.0},{"m":"2000-09","v":-0.3,"s":-0.12},{"m":"2000-10","v":-0.5,"s":-0.25},{"m":"2000-11","v":-0.2,"s":-0.37},{"m":"2000-12","v":-0.5,"s":-0.42},
      {"m":"2001-01","v":-0.3,"s":-0.43},{"m":"2001-02","v":-0.9,"s":-0.42},{"m":"2001-03","v":-0.3,"s":-0.37},{"m":"2001-04","v":-0.1,"s":-0.25},{"m":"2001-05","v":-0.3,"s":-0.15},{"m":"2001-06","v":0.2,"s":0.0},{"m":"2001-07","v":0.5,"s":0.12},{"m":"2001-08","v":0.1,"s":0.18},{"m":"2001-09","v":0.3,"s":0.14},{"m":"2001-10","v":-0.5,"s":0.12},{"m":"2001-11","v":0.4,"s":0.3},{"m":"2001-12","v":0.5,"s":0.42},
      {"m":"2002-01","v":0.9,"s":0.5},{"m":"2002-02","v":1.3,"s":0.6},{"m":"2002-03","v":0.2,"s":0.71},{"m":"2002-04","v":0.9,"s":0.69},{"m":"2002-05","v":1.0,"s":0.7},{"m":"2002-06","v":0.6,"s":0.8},{"m":"2002-07","v":1.0,"s":0.88},{"m":"2002-08","v":0.8,"s":0.92},{"m":"2002-09","v":1.1,"s":0.9},{"m":"2002-10","v":0.7,"s":0.9},{"m":"2002-11","v":1.0,"s":0.92},{"m":"2002-12","v":0.9,"s":0.9},
      {"m":"2003-01","v":1.0,"s":0.82},{"m":"2003-02","v":0.6,"s":0.75},{"m":"2003-03","v":0.9,"s":0.68},{"m":"2003-04","v":0.1,"s":0.6},{"m":"2003-05","v":0.7,"s":0.55},{"m":"2003-06","v":0.5,"s":0.62},{"m":"2003-07","v":0.8,"s":0.71},{"m":"2003-08","v":0.9,"s":0.78},{"m":"2003-09","v":0.7,"s":0.82},{"m":"2003-10","v":1.0,"s":0.86},{"m":"2003-11","v":0.8,"s":0.83},{"m":"2003-12","v":1.3,"s":0.8},
      {"m":"2004-01","v":0.6,"s":0.8},{"m":"2004-02","v":0.8,"s":0.76},{"m":"2004-03","v":0.7,"s":0.74},{"m":"2004-04","v":1.1,"s":0.9},{"m":"2004-05","v":1.0,"s":1.05},{"m":"2004-06","v":1.8,"s":1.2},{"m":"2004-07","v":1.2,"s":1.27},{"m":"2004-08","v":1.3,"s":1.25},{"m":"2004-09","v":1.0,"s":1.15},{"m":"2004-10","v":1.2,"s":1.1},{"m":"2004-11","v":0.8,"s":1.05},{"m":"2004-12","v":1.4,"s":1.0},
      {"m":"2005-01","v":0.8,"s":0.99},{"m":"2005-02","v":1.4,"s":1.0},{"m":"2005-03","v":0.9,"s":1.0},{"m":"2005-04","v":0.7,"s":1.02},{"m":"2005-05","v":1.4,"s":1.0},{"m":"2005-06","v":1.0,"s":0.95},{"m":"2005-07","v":0.6,"s":0.8},{"m":"2005-08","v":0.5,"s":0.6},{"m":"2005-09","v":0.3,"s":0.35},{"m":"2005-10","v":-0.3,"s":0.15},{"m":"2005-11","v":-0.2,"s":-0.06},{"m":"2005-12","v":0.0,"s":-0.15},
      {"m":"2006-01","v":-0.3,"s":-0.18},{"m":"2006-02","v":-0.4,"s":-0.12},{"m":"2006-03","v":0.1,"s":-0.05},{"m":"2006-04","v":0.4,"s":0.2},{"m":"2006-05","v":0.2,"s":0.4},{"m":"2006-06","v":0.9,"s":0.55},{"m":"2006-07","v":0.7,"s":0.65},{"m":"2006-08","v":0.5,"s":0.7},{"m":"2006-09","v":0.9,"s":0.55},{"m":"2006-10","v":1.0,"s":0.45},{"m":"2006-11","v":0.2,"s":0.35},{"m":"2006-12","v":0.3,"s":0.2},
      {"m":"2007-01","v":0.1,"s":-0.05},{"m":"2007-02","v":-0.5,"s":-0.12},{"m":"2007-03","v":-0.2,"s":-0.12},{"m":"2007-04","v":0.4,"s":-0.08},{"m":"2007-05","v":-0.1,"s":-0.04},{"m":"2007-06","v":-0.3,"s":-0.15},{"m":"2007-07","v":-0.2,"s":-0.3},{"m":"2007-08","v":-0.5,"s":-0.45},{"m":"2007-09","v":-0.8,"s":-0.6},{"m":"2007-10","v":-1.2,"s":-0.68},{"m":"2007-11","v":-0.6,"s":-0.74},{"m":"2007-12","v":-0.8,"s":-0.7},
      {"m":"2008-01","v":-0.7,"s":-0.58},{"m":"2008-02","v":-0.3,"s":-0.4},{"m":"2008-03","v":-0.4,"s":-0.2},{"m":"2008-04","v":0.1,"s":-0.05},{"m":"2008-05","v":0.0,"s":0.06},{"m":"2008-06","v":0.3,"s":0.15},{"m":"2008-07","v":0.4,"s":0.18},{"m":"2008-08","v":0.2,"s":0.14},{"m":"2008-09","v":-0.1,"s":0.1},{"m":"2008-10","v":0.1,"s":-0.1},{"m":"2008-11","v":-0.4,"s":-0.25},{"m":"2008-12","v":-0.3,"s":-0.4},
      {"m":"2009-01","v":-0.5,"s":-0.4},{"m":"2009-02","v":-0.3,"s":-0.38},{"m":"2009-03","v":-0.4,"s":-0.3},{"m":"2009-04","v":0.0,"s":-0.15},{"m":"2009-05","v":-0.2,"s":0.05},{"m":"2009-06","v":0.7,"s":0.18},{"m":"2009-07","v":0.2,"s":0.3},{"m":"2009-08","v":0.6,"s":0.43},{"m":"2009-09","v":0.4,"s":0.55},{"m":"2009-10","v":1.0,"s":0.68},{"m":"2009-11","v":0.7,"s":0.9},{"m":"2009-12","v":1.1,"s":1.05},
      {"m":"2010-01","v":2.0,"s":1.1},{"m":"2010-02","v":1.0,"s":1.08},{"m":"2010-03","v":0.8,"s":0.95},{"m":"2010-04","v":0.9,"s":0.8},{"m":"2010-05","v":0.5,"s":0.6},{"m":"2010-06","v":0.3,"s":0.4},{"m":"2010-07","v":0.2,"s":0.18},{"m":"2010-08","v":-0.1,"s":0.0},{"m":"2010-09","v":-0.7,"s":-0.25},{"m":"2010-10","v":-0.3,"s":-0.45},{"m":"2010-11","v":-1.3,"s":-0.53},{"m":"2010-12","v":-0.4,"s":-0.56},
      {"m":"2011-01","v":-0.5,"s":-0.4},{"m":"2011-02","v":-0.2,"s":-0.25},{"m":"2011-03","v":0.0,"s":-0.1},{"m":"2011-04","v":0.3,"s":0.05},{"m":"2011-05","v":0.1,"s":0.2},{"m":"2011-06","v":0.3,"s":0.21},{"m":"2011-07","v":0.4,"s":0.18},{"m":"2011-08","v":-0.2,"s":0.0},{"m":"2011-09","v":-0.4,"s":-0.18},{"m":"2011-10","v":0.1,"s":-0.25},{"m":"2011-11","v":-0.9,"s":-0.31},{"m":"2011-12","v":-0.3,"s":-0.2},
      {"m":"2012-01","v":-0.4,"s":-0.1},{"m":"2012-02","v":0.3,"s":0.2},{"m":"2012-03","v":0.7,"s":0.43},{"m":"2012-04","v":1.0,"s":0.7},{"m":"2012-05","v":1.9,"s":0.99},{"m":"2012-06","v":1.3,"s":1.08},{"m":"2012-07","v":1.3,"s":1.11},{"m":"2012-08","v":0.7,"s":0.9},{"m":"2012-09","v":0.4,"s":0.74},{"m":"2012-10","v":0.6,"s":0.55},{"m":"2012-11","v":0.3,"s":0.43},{"m":"2012-12","v":0.5,"s":0.35},
      {"m":"2013-01","v":0.2,"s":0.31},{"m":"2013-02","v":0.4,"s":0.28},{"m":"2013-03","v":0.3,"s":0.25},{"m":"2013-04","v":-0.2,"s":0.27},{"m":"2013-05","v":0.4,"s":0.28},{"m":"2013-06","v":0.3,"s":0.33},{"m":"2013-07","v":0.7,"s":0.37},{"m":"2013-08","v":0.2,"s":0.3},{"m":"2013-09","v":0.4,"s":0.25},{"m":"2013-10","v":-0.1,"s":0.15},{"m":"2013-11","v":0.1,"s":0.04},{"m":"2013-12","v":-0.1,"s":0.05},
      {"m":"2014-01","v":0.3,"s":0.09},{"m":"2014-02","v":0.5,"s":0.35},{"m":"2014-03","v":1.3,"s":0.6},{"m":"2014-04","v":0.7,"s":0.8},{"m":"2014-05","v":1.2,"s":0.95},{"m":"2014-06","v":0.7,"s":1.05},{"m":"2014-07","v":1.0,"s":0.98},{"m":"2014-08","v":0.8,"s":0.93},{"m":"2014-09","v":1.0,"s":0.8},{"m":"2014-10","v":0.6,"s":0.76},{"m":"2014-11","v":0.8,"s":0.74},{"m":"2014-12","v":0.6,"s":0.74},
      {"m":"2015-01","v":0.4,"s":0.74},{"m":"2015-02","v":0.8,"s":0.9},{"m":"2015-03","v":1.0,"s":1.17},{"m":"2015-04","v":2.2,"s":1.5},{"m":"2015-05","v":1.7,"s":1.9},{"m":"2015-06","v":3.3,"s":2.15},{"m":"2015-07","v":2.2,"s":null},{"m":"2015-08","v":2.1,"s":null}
    ]
  },
  "vconcat": [
    {
      "width": 645, "height": 217,
      "layer": [
        {"data": {"name": "d1"}, "mark": {"type": "bar", "color": "#00d18c", "binSpacing": 0, "stroke": "#00d18c", "strokeWidth": 0.7},
         "encoding": {
           "x": {"field": "m", "timeUnit": "utcyearmonth", "type": "temporal", "title": null,
                 "scale": {"type": "utc", "domain": [{"year": 1995, "month": 10, "date": 1, "utc": true}, {"year": 2015, "month": 12, "date": 5, "utc": true}]},
                 "axis": {"format": "%Y", "values": [{"year": 1996, "month": 1, "date": 1, "utc": true}, {"year": 1998, "month": 1, "date": 1, "utc": true}, {"year": 2000, "month": 1, "date": 1, "utc": true}, {"year": 2002, "month": 1, "date": 1, "utc": true}, {"year": 2004, "month": 1, "date": 1, "utc": true}, {"year": 2006, "month": 1, "date": 1, "utc": true}, {"year": 2008, "month": 1, "date": 1, "utc": true}, {"year": 2010, "month": 1, "date": 1, "utc": true}, {"year": 2012, "month": 1, "date": 1, "utc": true}, {"year": 2014, "month": 1, "date": 1, "utc": true}]}},
           "y": {"field": "v", "type": "quantitative", "title": null, "scale": {"domain": [-4, 4], "nice": false, "zero": false}, "axis": {"values": [-4, -3, -2, -1, 0, 1, 2, 3, 4], "tickCount": 9, "labelOverlap": false}}
         }},
        {"data": {"name": "gy"}, "mark": {"type": "rule", "strokeDash": [3, 2], "color": "#000", "strokeWidth": 1},
         "encoding": {"y": {"field": "g", "type": "quantitative", "title": null, "axis": {"values": [-4, -3, -2, -1, 0, 1, 2, 3, 4], "tickCount": 9, "labelOverlap": false}}}},
        {"data": {"name": "gx"}, "mark": {"type": "rule", "strokeDash": [3, 2], "color": "#000", "strokeWidth": 1},
         "encoding": {"x": {"field": "g", "type": "temporal", "title": null}}},
        {"data": {"name": "d1"}, "mark": {"type": "line", "color": "#000", "strokeWidth": 2},
         "encoding": {"x": {"field": "m", "timeUnit": "utcyearmonth", "type": "temporal", "bandPosition": 0.5, "title": null}, "y": {"field": "s", "type": "quantitative", "title": null}}},
        {"data": {"name": "arr"}, "transform": [{"filter": "datum.p == 1"}],
         "mark": {"type": "point", "filled": true, "size": 2704, "opacity": 1, "strokeWidth": 0},
         "encoding": {"x": {"field": "t", "type": "temporal", "title": null}, "y": {"field": "y", "type": "quantitative", "title": null},
           "shape": {"field": "d", "type": "nominal", "legend": null, "scale": {"domain": ["L", "R"], "range": ["M -0.69 0 L 0.08 -1 L 0.08 -0.35 L 0.69 -0.35 L 0.69 0.35 L 0.08 0.35 L 0.08 1 Z", "M 0.69 0 L -0.08 -1 L -0.08 -0.35 L -0.69 -0.35 L -0.69 0.35 L -0.08 0.35 L -0.08 1 Z"]}},
           "color": {"field": "d", "type": "nominal", "legend": null, "scale": {"domain": ["L", "R"], "range": ["#0000ff", "#ff0000"]}}}},
        {"data": {"values": [{}]}, "mark": {"type": "text", "align": "left", "baseline": "middle", "font": "DejaVu Sans Mono", "fontSize": 16, "color": "#000"},
         "encoding": {"x": {"datum": {"year": 1996, "month": 5, "date": 18, "utc": true}, "type": "temporal", "title": null}, "y": {"datum": 3.34, "type": "quantitative", "title": null}, "text": {"value": "200hPa 135E-180"}}}
      ]
    },
    {
      "width": 645, "height": 217,
      "layer": [
        {"data": {"name": "d2"}, "mark": {"type": "bar", "color": "#00d18c", "binSpacing": 0, "stroke": "#00d18c", "strokeWidth": 0.7},
         "encoding": {
           "x": {"field": "m", "timeUnit": "utcyearmonth", "type": "temporal", "title": null,
                 "scale": {"type": "utc", "domain": [{"year": 1995, "month": 10, "date": 1, "utc": true}, {"year": 2015, "month": 12, "date": 5, "utc": true}]},
                 "axis": {"format": "%Y", "values": [{"year": 1996, "month": 1, "date": 1, "utc": true}, {"year": 1998, "month": 1, "date": 1, "utc": true}, {"year": 2000, "month": 1, "date": 1, "utc": true}, {"year": 2002, "month": 1, "date": 1, "utc": true}, {"year": 2004, "month": 1, "date": 1, "utc": true}, {"year": 2006, "month": 1, "date": 1, "utc": true}, {"year": 2008, "month": 1, "date": 1, "utc": true}, {"year": 2010, "month": 1, "date": 1, "utc": true}, {"year": 2012, "month": 1, "date": 1, "utc": true}, {"year": 2014, "month": 1, "date": 1, "utc": true}]}},
           "y": {"field": "v", "type": "quantitative", "title": null, "scale": {"domain": [-4, 4], "nice": false, "zero": false}, "axis": {"values": [-4, -3, -2, -1, 0, 1, 2, 3, 4], "tickCount": 9, "labelOverlap": false}}
         }},
        {"data": {"name": "gy"}, "mark": {"type": "rule", "strokeDash": [3, 2], "color": "#000", "strokeWidth": 1},
         "encoding": {"y": {"field": "g", "type": "quantitative", "title": null, "axis": {"values": [-4, -3, -2, -1, 0, 1, 2, 3, 4], "tickCount": 9, "labelOverlap": false}}}},
        {"data": {"name": "gx"}, "mark": {"type": "rule", "strokeDash": [3, 2], "color": "#000", "strokeWidth": 1},
         "encoding": {"x": {"field": "g", "type": "temporal", "title": null}}},
        {"data": {"name": "d2"}, "mark": {"type": "line", "color": "#000", "strokeWidth": 2},
         "encoding": {"x": {"field": "m", "timeUnit": "utcyearmonth", "type": "temporal", "bandPosition": 0.5, "title": null}, "y": {"field": "s", "type": "quantitative", "title": null}}},
        {"data": {"name": "arr"}, "transform": [{"filter": "datum.p == 2"}],
         "mark": {"type": "point", "filled": true, "size": 2704, "opacity": 1, "strokeWidth": 0},
         "encoding": {"x": {"field": "t", "type": "temporal", "title": null}, "y": {"field": "y", "type": "quantitative", "title": null},
           "shape": {"field": "d", "type": "nominal", "legend": null, "scale": {"domain": ["L", "R"], "range": ["M -0.69 0 L 0.08 -1 L 0.08 -0.35 L 0.69 -0.35 L 0.69 0.35 L 0.08 0.35 L 0.08 1 Z", "M 0.69 0 L -0.08 -1 L -0.08 -0.35 L -0.69 -0.35 L -0.69 0.35 L -0.08 0.35 L -0.08 1 Z"]}},
           "color": {"field": "d", "type": "nominal", "legend": null, "scale": {"domain": ["L", "R"], "range": ["#0000ff", "#ff0000"]}}}},
        {"data": {"values": [{}]}, "mark": {"type": "text", "align": "left", "baseline": "middle", "font": "DejaVu Sans Mono", "fontSize": 16, "color": "#000"},
         "encoding": {"x": {"datum": {"year": 1996, "month": 5, "date": 8, "utc": true}, "type": "temporal", "title": null}, "y": {"datum": 3.34, "type": "quantitative", "title": null}, "text": {"value": "200hPa 175W-120W"}}}
      ]
    },
    {
      "width": 645, "height": 217,
      "layer": [
        {"data": {"name": "d3"}, "mark": {"type": "bar", "color": "#00d18c", "binSpacing": 0, "stroke": "#00d18c", "strokeWidth": 0.7},
         "encoding": {
           "x": {"field": "m", "timeUnit": "utcyearmonth", "type": "temporal", "title": null,
                 "scale": {"type": "utc", "domain": [{"year": 1995, "month": 10, "date": 1, "utc": true}, {"year": 2015, "month": 12, "date": 5, "utc": true}]},
                 "axis": {"format": "%Y", "values": [{"year": 1996, "month": 1, "date": 1, "utc": true}, {"year": 1998, "month": 1, "date": 1, "utc": true}, {"year": 2000, "month": 1, "date": 1, "utc": true}, {"year": 2002, "month": 1, "date": 1, "utc": true}, {"year": 2004, "month": 1, "date": 1, "utc": true}, {"year": 2006, "month": 1, "date": 1, "utc": true}, {"year": 2008, "month": 1, "date": 1, "utc": true}, {"year": 2010, "month": 1, "date": 1, "utc": true}, {"year": 2012, "month": 1, "date": 1, "utc": true}, {"year": 2014, "month": 1, "date": 1, "utc": true}]}},
           "y": {"field": "v", "type": "quantitative", "title": null, "scale": {"domain": [-4, 4], "nice": false, "zero": false}, "axis": {"values": [-4, -3, -2, -1, 0, 1, 2, 3, 4], "tickCount": 9, "labelOverlap": false}}
         }},
        {"data": {"name": "gy"}, "mark": {"type": "rule", "strokeDash": [3, 2], "color": "#000", "strokeWidth": 1},
         "encoding": {"y": {"field": "g", "type": "quantitative", "title": null, "axis": {"values": [-4, -3, -2, -1, 0, 1, 2, 3, 4], "tickCount": 9, "labelOverlap": false}}}},
        {"data": {"name": "gx"}, "mark": {"type": "rule", "strokeDash": [3, 2], "color": "#000", "strokeWidth": 1},
         "encoding": {"x": {"field": "g", "type": "temporal", "title": null}}},
        {"data": {"name": "d3"}, "mark": {"type": "line", "color": "#000", "strokeWidth": 2},
         "encoding": {"x": {"field": "m", "timeUnit": "utcyearmonth", "type": "temporal", "bandPosition": 0.5, "title": null}, "y": {"field": "s", "type": "quantitative", "title": null}}},
        {"data": {"name": "arr"}, "transform": [{"filter": "datum.p == 3"}],
         "mark": {"type": "point", "filled": true, "size": 2704, "opacity": 1, "strokeWidth": 0},
         "encoding": {"x": {"field": "t", "type": "temporal", "title": null}, "y": {"field": "y", "type": "quantitative", "title": null},
           "shape": {"field": "d", "type": "nominal", "legend": null, "scale": {"domain": ["L", "R"], "range": ["M -0.69 0 L 0.08 -1 L 0.08 -0.35 L 0.69 -0.35 L 0.69 0.35 L 0.08 0.35 L 0.08 1 Z", "M 0.69 0 L -0.08 -1 L -0.08 -0.35 L -0.69 -0.35 L -0.69 0.35 L -0.08 0.35 L -0.08 1 Z"]}},
           "color": {"field": "d", "type": "nominal", "legend": null, "scale": {"domain": ["L", "R"], "range": ["#0000ff", "#ff0000"]}}}},
        {"data": {"name": "arc"},
         "mark": {"type": "trail", "fill": {"gradient": "linear", "x1": 0, "y1": 0, "x2": 0, "y2": 1, "stops": [{"offset": 0, "color": "#0f4087"}, {"offset": 0.15, "color": "#0a3aa5"}, {"offset": 0.35, "color": "#0a14c0"}, {"offset": 0.45, "color": "#3a10a8"}, {"offset": 0.5, "color": "#7a0e80"}, {"offset": 0.56, "color": "#c40a48"}, {"offset": 0.63, "color": "#f80808"}, {"offset": 1, "color": "#ff0000"}]}},
         "encoding": {"x": {"field": "t", "type": "temporal", "title": null}, "y": {"field": "y", "type": "quantitative", "title": null},
           "order": {"field": "k", "type": "quantitative"},
           "size": {"field": "w", "type": "quantitative", "legend": null, "scale": {"domain": [0, 1], "range": [0, 42]}}}},
        {"data": {"name": "head"},
         "mark": {"type": "point", "filled": true, "size": 5476, "opacity": 1, "strokeWidth": 0, "color": "#d4002e", "shape": "M 0.446 0.135 L -0.446 -1 L -0.446 1 Z"},
         "encoding": {"x": {"field": "t", "type": "temporal", "title": null}, "y": {"field": "y", "type": "quantitative", "title": null}}},
        {"data": {"values": [{}]}, "mark": {"type": "text", "align": "left", "baseline": "middle", "font": "DejaVu Sans Mono", "fontSize": 16, "color": "#000"},
         "encoding": {"x": {"datum": {"year": 1996, "month": 6, "date": 1, "utc": true}, "type": "temporal", "title": null}, "y": {"datum": 3.34, "type": "quantitative", "title": null}, "text": {"value": "850hPa 135E-180"}}}
      ]
    },
    {
      "width": 645, "height": 217,
      "layer": [
        {"data": {"name": "d4"}, "mark": {"type": "bar", "color": "#00d18c", "binSpacing": 0, "stroke": "#00d18c", "strokeWidth": 0.7},
         "encoding": {
           "x": {"field": "m", "timeUnit": "utcyearmonth", "type": "temporal", "title": null,
                 "scale": {"type": "utc", "domain": [{"year": 1995, "month": 10, "date": 1, "utc": true}, {"year": 2015, "month": 12, "date": 5, "utc": true}]},
                 "axis": {"format": "%Y", "values": [{"year": 1996, "month": 1, "date": 1, "utc": true}, {"year": 1998, "month": 1, "date": 1, "utc": true}, {"year": 2000, "month": 1, "date": 1, "utc": true}, {"year": 2002, "month": 1, "date": 1, "utc": true}, {"year": 2004, "month": 1, "date": 1, "utc": true}, {"year": 2006, "month": 1, "date": 1, "utc": true}, {"year": 2008, "month": 1, "date": 1, "utc": true}, {"year": 2010, "month": 1, "date": 1, "utc": true}, {"year": 2012, "month": 1, "date": 1, "utc": true}, {"year": 2014, "month": 1, "date": 1, "utc": true}]}},
           "y": {"field": "v", "type": "quantitative", "title": null, "scale": {"domain": [-4, 4], "nice": false, "zero": false}, "axis": {"values": [-4, -3, -2, -1, 0, 1, 2, 3, 4], "tickCount": 9, "labelOverlap": false}}
         }},
        {"data": {"name": "gy"}, "mark": {"type": "rule", "strokeDash": [3, 2], "color": "#000", "strokeWidth": 1},
         "encoding": {"y": {"field": "g", "type": "quantitative", "title": null, "axis": {"values": [-4, -3, -2, -1, 0, 1, 2, 3, 4], "tickCount": 9, "labelOverlap": false}}}},
        {"data": {"name": "gx"}, "mark": {"type": "rule", "strokeDash": [3, 2], "color": "#000", "strokeWidth": 1},
         "encoding": {"x": {"field": "g", "type": "temporal", "title": null}}},
        {"data": {"name": "d4"}, "mark": {"type": "line", "color": "#000", "strokeWidth": 2},
         "encoding": {"x": {"field": "m", "timeUnit": "utcyearmonth", "type": "temporal", "bandPosition": 0.5, "title": null}, "y": {"field": "s", "type": "quantitative", "title": null}}},
        {"data": {"name": "arr"}, "transform": [{"filter": "datum.p == 4"}],
         "mark": {"type": "point", "filled": true, "size": 2704, "opacity": 1, "strokeWidth": 0},
         "encoding": {"x": {"field": "t", "type": "temporal", "title": null}, "y": {"field": "y", "type": "quantitative", "title": null},
           "shape": {"field": "d", "type": "nominal", "legend": null, "scale": {"domain": ["L", "R"], "range": ["M -0.69 0 L 0.08 -1 L 0.08 -0.35 L 0.69 -0.35 L 0.69 0.35 L 0.08 0.35 L 0.08 1 Z", "M 0.69 0 L -0.08 -1 L -0.08 -0.35 L -0.69 -0.35 L -0.69 0.35 L -0.08 0.35 L -0.08 1 Z"]}},
           "color": {"field": "d", "type": "nominal", "legend": null, "scale": {"domain": ["L", "R"], "range": ["#0000ff", "#ff0000"]}}}},
        {"data": {"values": [{}]}, "mark": {"type": "text", "align": "left", "baseline": "middle", "font": "DejaVu Sans Mono", "fontSize": 16, "color": "#000"},
         "encoding": {"x": {"datum": {"year": 1996, "month": 5, "date": 8, "utc": true}, "type": "temporal", "title": null}, "y": {"datum": 3.34, "type": "quantitative", "title": null}, "text": {"value": "850hPa 175W-120W"}}}
      ]
    }
  ]
}
